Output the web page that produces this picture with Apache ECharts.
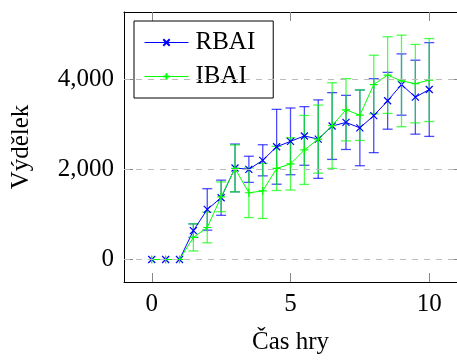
<!DOCTYPE html>
<html>
<head>
<meta charset="utf-8">
<script src="https://cdn.jsdelivr.net/npm/echarts@6/dist/echarts.min.js"></script>
<style>
  html, body { margin: 0; padding: 0; background: #fff; }
  #main { width: 457px; height: 360px; }
</style>
</head>
<body>
<div id="main"></div>
<script>
// data
var casHry = [0, 0.5, 1, 1.5, 2, 2.5, 3, 3.5, 4, 4.5, 5, 5.5, 6, 6.5, 7, 7.5, 8, 8.5, 9, 9.5, 10];
var rbai = [0, 0, 0, 640, 1110, 1370, 2030, 2000, 2200, 2500, 2620, 2740, 2670, 2960, 3040, 2920, 3190, 3520, 3880, 3600, 3770];
var rbaiErr = [0, 0, 0, 150, 460, 390, 530, 290, 345, 830, 740, 650, 870, 740, 600, 840, 820, 630, 680, 820, 1040];
var ibai = [0, 0, 0, 490, 710, 1390, 2020, 1480, 1520, 2020, 2120, 2430, 2670, 2970, 3320, 3200, 3880, 4090, 3960, 3900, 3980];
var ibaiErr = [0, 0, 0, 300, 340, 330, 520, 550, 610, 490, 580, 765, 755, 950, 690, 560, 650, 850, 1015, 870, 920];
var xTicks = [0, 5, 10];
var yTicks = [0, 2000, 4000];

var serif = '"Liberation Serif", "DejaVu Serif", serif';
var fs = 25;
var crossX = 'path://M0,0L10,10M10,0L0,10';
var crossPlus = 'path://M5,0L5,10M0,5L10,5';

function pairs(ys) {
    var out = [];
    for (var i = 0; i < casHry.length; i++) out.push([casHry[i], ys[i]]);
    return out;
}
function errData(ys, errs) {
    var out = [];
    for (var i = 0; i < casHry.length; i++) out.push([casHry[i], ys[i], errs[i]]);
    return out;
}
function errorBars(color) {
    return function (params, api) {
        var x = api.value(0), y = api.value(1), e = api.value(2);
        if (!e) return null;
        var top = api.coord([x, y + e]);
        var bot = api.coord([x, y - e]);
        var w = 5;
        var style = { stroke: color, lineWidth: 1.3, opacity: 0.7 };
        return {
            type: 'group',
            children: [
                { type: 'line', shape: { x1: top[0], y1: top[1], x2: bot[0], y2: bot[1] }, style: style },
                { type: 'line', shape: { x1: top[0] - w, y1: top[1], x2: top[0] + w, y2: top[1] }, style: style },
                { type: 'line', shape: { x1: bot[0] - w, y1: bot[1], x2: bot[0] + w, y2: bot[1] }, style: style }
            ]
        };
    };
}

var myChart = echarts.init(document.getElementById('main'), null, { renderer: 'canvas' });

var axisCommon = {
    type: 'value',
    axisLine: { show: true, onZero: false, lineStyle: { color: '#000', width: 1 } },
    axisTick: { inside: true, length: 9, lineStyle: { color: '#888' } },
    splitLine: { show: false }
};

var option = {
    animation: false,
    textStyle: { fontFamily: serif },
    grid: { left: 124, right: -2, top: 12, bottom: 76 },
    legend: {
        left: 134, top: 21,
        orient: 'vertical',
        data: ['RBAI', 'IBAI'],
        backgroundColor: '#fff',
        borderColor: '#000',
        borderWidth: 1,
        borderRadius: 0,
        padding: [9, 18, 9, 10],
        itemGap: 9,
        itemWidth: 44,
        itemHeight: 8,
        lineStyle: { width: 1 },
        textStyle: { fontFamily: serif, fontSize: fs, color: '#000', padding: [0, 0, 0, 2] }
    },
    xAxis: [
        Object.assign({}, axisCommon, {
            min: -1, max: 11,
            position: 'bottom',
            name: 'Čas hry',
            nameLocation: 'middle',
            nameGap: 48,
            nameTextStyle: { fontFamily: serif, fontSize: fs, color: '#000' },
            axisTick: { inside: true, length: 9, customValues: xTicks, lineStyle: { color: '#888' } },
            axisLabel: { customValues: xTicks, margin: 10, fontFamily: serif, fontSize: fs, color: '#000' }
        }),
        Object.assign({}, axisCommon, {
            min: -1, max: 11,
            position: 'top',
            axisTick: { inside: true, length: 9, customValues: xTicks, lineStyle: { color: '#888' } },
            axisLabel: { show: false }
        })
    ],
    yAxis: [
        Object.assign({}, axisCommon, {
            min: -499, max: 5489,
            position: 'left',
            name: 'Výdělek',
            nameLocation: 'middle',
            nameGap: 90,
            nameTextStyle: { fontFamily: serif, fontSize: fs, color: '#000' },
            axisTick: { inside: true, length: 9, customValues: yTicks, lineStyle: { color: '#888' } },
            axisLabel: {
                customValues: yTicks, margin: 10, fontFamily: serif, fontSize: fs, color: '#000',
                formatter: function (v) { return v.toLocaleString('en-US'); }
            }
        }),
        Object.assign({}, axisCommon, {
            min: -499, max: 5489,
            position: 'right',
            axisTick: { inside: true, length: 9, customValues: yTicks, lineStyle: { color: '#888' } },
            axisLabel: { show: false }
        })
    ],
    series: [
        {
            // horizontal dashed grid
            type: 'line',
            data: [],
            silent: true,
            z: 0,
            markLine: {
                silent: true,
                symbol: 'none',
                label: { show: false },
                lineStyle: { color: '#bbb', type: [6, 6], width: 1 },
                data: yTicks.map(function (v) { return { yAxis: v }; })
            }
        },
        {
            type: 'custom',
            renderItem: errorBars('#0000ff'),
            data: errData(rbai, rbaiErr),
            z: 2
        },
        {
            type: 'custom',
            renderItem: errorBars('#00ff00'),
            data: errData(ibai, ibaiErr),
            z: 2
        },
        {
            name: 'RBAI',
            type: 'line',
            data: pairs(rbai),
            symbol: crossX,
            symbolSize: 7,
            showAllSymbol: true,
            lineStyle: { color: '#0000ff', width: 1 },
            itemStyle: { color: '#0000ff', borderColor: '#0000ff', borderWidth: 1.2 },
            z: 3
        },
        {
            name: 'IBAI',
            type: 'line',
            data: pairs(ibai),
            symbol: crossPlus,
            symbolSize: 8,
            showAllSymbol: true,
            lineStyle: { color: '#00ff00', width: 1 },
            itemStyle: { color: '#00ff00', borderColor: '#00ff00', borderWidth: 1.2 },
            z: 4
        }
    ]
};

myChart.setOption(option);
</script>
</body>
</html>
